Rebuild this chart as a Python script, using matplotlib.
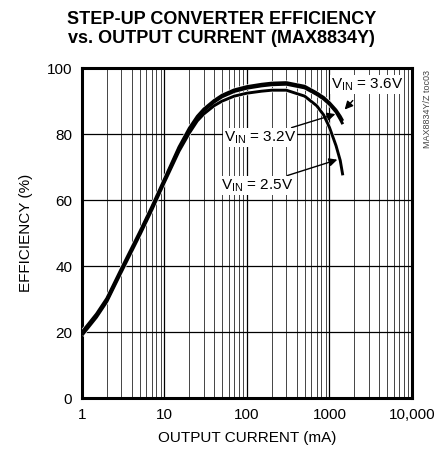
import numpy as np
import matplotlib
matplotlib.use("Agg")
import matplotlib.pyplot as plt
from matplotlib.ticker import FixedLocator, NullFormatter, LogLocator

FONT = ["Liberation Sans", "DejaVu Sans"]
plt.rcParams["font.family"] = FONT
plt.rcParams["mathtext.fontset"] = "custom"
plt.rcParams["mathtext.rm"] = "Liberation Sans"

# output current (mA)
current = [1, 1.5, 2, 3, 5, 7, 10, 15, 20, 25, 30, 40, 50, 70, 100, 150, 200, 300, 500, 700,
           850, 1000, 1200, 1350, 1450]
eff_36 = [20, 25.5, 30.2, 39.2, 50.3, 57.9, 66.4, 76.1, 81.8, 85.4, 87.6, 90.2, 91.8, 93.4, 94.4,
          95.1, 95.45, 95.6, 94.5, 92.5, 91.1, 89.5, 87.3, 85.4, 84]
eff_32 = [19.5, 25, 29.7, 38.7, 49.8, 57.4, 65.9, 75.6, 81.3, 84.9, 87.1, 89.7, 91.3, 92.9, 93.9,
          94.6, 94.95, 95.1, 94, 92, 90.6, 89, 86.7, 84.5, 83]
eff_25 = [19, 24.5, 29.2, 38.2, 49.3, 56.9, 65.4, 74.8, 80.3, 84.0, 86.1, 88.6, 90, 91.5, 92.4,
          93, 93.3, 93.3, 91.5, 88.6, 85.8, 82, 76.5, 72, 67.5]

x_ticks = [1, 10, 100, 1000, 10000]
x_labels = ["1", "10", "100", "1000", "10,000"]
y_ticks = [0, 20, 40, 60, 80, 100]

fig = plt.figure(figsize=(4.43, 4.57), dpi=100)
ax = fig.add_axes([0.185, 0.129, 0.745, 0.722])

ax.set_xscale("log")
ax.set_xlim(1, 10000)
ax.set_ylim(0, 100)
ax.xaxis.set_major_locator(FixedLocator(x_ticks))
ax.xaxis.set_minor_locator(LogLocator(base=10, subs=np.arange(2, 10)))
ax.xaxis.set_minor_formatter(NullFormatter())
ax.set_xticks(x_ticks)
ax.set_xticklabels(x_labels)
ax.set_yticks(y_ticks)
ax.grid(which="major", color="black", linewidth=0.9)
ax.grid(which="minor", axis="x", color="#444444", linewidth=0.7)
ax.tick_params(which="both", length=0, labelsize=11, pad=7)
for s in ax.spines.values():
    s.set_linewidth(2.2)

for eff in (eff_25, eff_32, eff_36):
    ax.plot(current, eff, color="white", linewidth=3.0, solid_capstyle="butt",
            solid_joinstyle="round", zorder=3)
    ax.plot(current, eff, color="black", linewidth=2.1, solid_capstyle="butt",
            solid_joinstyle="round", zorder=4)

bbox = dict(facecolor="white", edgecolor="none", pad=1)
arrow = dict(arrowstyle="-|>", color="black", linewidth=1.0, mutation_scale=12)
ax.annotate(r"V$_{\mathrm{IN}}$ = 3.6V", xy=(1450, 86.8), xytext=(2850, 95),
            ha="center", va="center", fontsize=11, bbox=bbox, zorder=6,
            arrowprops=dict(arrow, shrinkA=6))
ax.annotate(r"V$_{\mathrm{IN}}$ = 3.2V", xy=(1270, 86.3), xytext=(144, 79),
            ha="center", va="center", fontsize=11, bbox=bbox, zorder=6,
            arrowprops=dict(arrow, shrinkA=0))
ax.annotate(r"V$_{\mathrm{IN}}$ = 2.5V", xy=(1340, 72.5), xytext=(132, 64.5),
            ha="center", va="center", fontsize=11, bbox=bbox, zorder=6,
            arrowprops=dict(arrow, shrinkA=0))

ax.set_xlabel("OUTPUT CURRENT (mA)", fontsize=11, labelpad=7)
ax.set_ylabel("EFFICIENCY (%)", fontsize=11, labelpad=10)
fig.text(0.5, 0.975, "STEP-UP CONVERTER EFFICIENCY\nvs. OUTPUT CURRENT (MAX8834Y)",
         ha="center", va="top", fontsize=13, fontweight="bold", linespacing=1.15)
fig.text(0.965, 0.847, "MAX8834Y/Z toc03", rotation=90, ha="center", va="top",
         fontsize=6.5, color="#444444")

fig.savefig("out.png", dpi=100)
